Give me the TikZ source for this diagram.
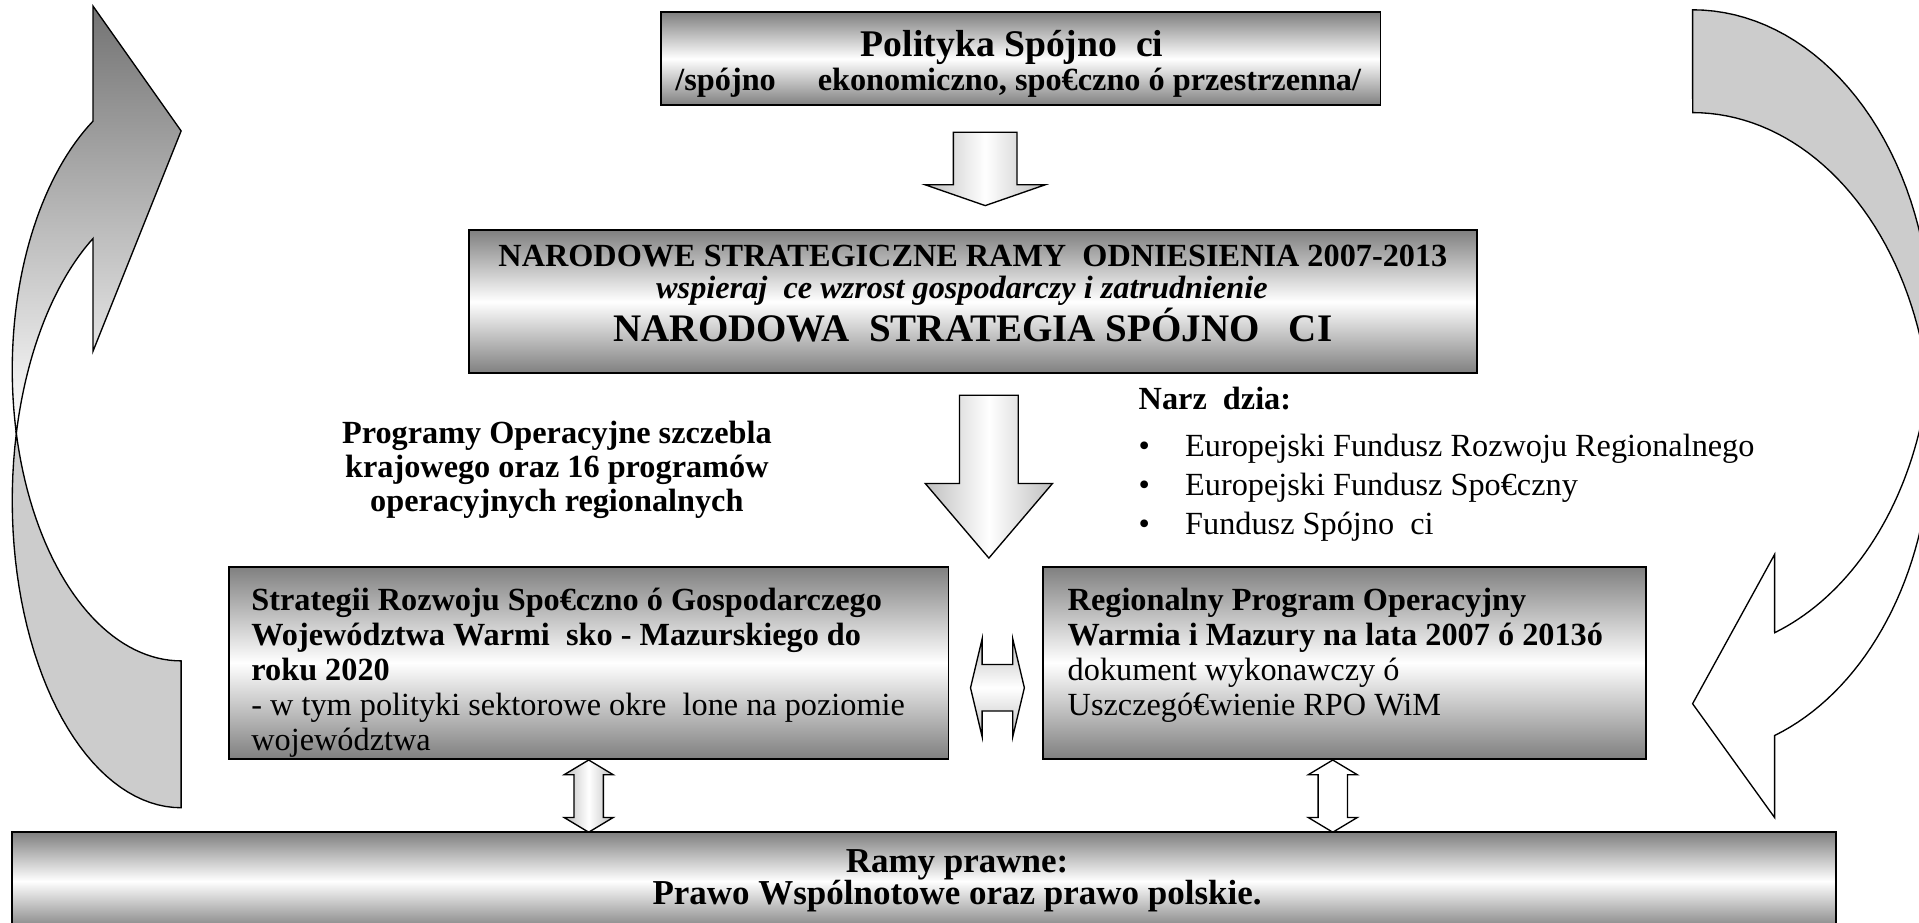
\documentclass[tikz,border=0pt]{standalone}
\usepackage{fontspec}
\setmainfont{Liberation Serif}
\usetikzlibrary{positioning,calc}
\newdimen\unitpx \unitpx=0.455pt
\tikzset{
    panel/.style={draw=black, line width=0.7pt, top color=black!50, bottom color=black!50, middle color=white, inner sep=0pt},
    blockarrow/.style={draw=black, line width=0.5pt, left color=black!25, right color=black!25, middle color=white},
    blockarrowh/.style={draw=black, line width=0.5pt, top color=black!25, bottom color=black!25, middle color=white},
    plainarrow/.style={draw=black, line width=0.5pt, fill=white},
    curveback/.style={draw=black, line width=0.5pt, fill=black!20},
    curvefront/.style={draw=black, line width=0.5pt, top color=black!55, bottom color=white},
    txt/.style={inner sep=0pt, font=\fontsize{12}{13}\selectfont},
    boldtxt/.style={inner sep=0pt, font=\fontsize{12}{13}\selectfont\bfseries}
}
% x, top, head base, tip, half shaft, half head
\newcommand{\DownBlock}[6]{%
  \draw[blockarrow] (#1-#5,#2) -- (#1+#5,#2) -- (#1+#5,#3) -- (#1+#6,#3) -- (#1,#4) -- (#1-#6,#3) -- (#1-#5,#3) -- cycle;}
% style, x, top, bottom, half shaft, half head, head length
\newcommand{\VDouble}[7]{%
  \draw[#1] (#2,#3) -- (#2+#6,#3+#7) -- (#2+#5,#3+#7) -- (#2+#5,#4-#7) -- (#2+#6,#4-#7) -- (#2,#4) -- (#2-#6,#4-#7) -- (#2-#5,#4-#7) -- (#2-#5,#3+#7) -- (#2-#6,#3+#7) -- cycle;}
% style, y, left, right, half shaft, half head, head length
\newcommand{\HDouble}[7]{%
  \draw[#1] (#3,#2) -- (#3+#7,#2-#6) -- (#3+#7,#2-#5) -- (#4-#7,#2-#5) -- (#4-#7,#2-#6) -- (#4,#2) -- (#4-#7,#2+#6) -- (#4-#7,#2+#5) -- (#3+#7,#2+#5) -- (#3+#7,#2+#6) -- cycle;}

\begin{document}
\begin{tikzpicture}[x=0.455pt, y=-0.455pt]
    \useasboundingbox (0,0) rectangle (1568,754);
    \clip (0,0) rectangle (1568,754);

    % left curved arrow: back part, then front part
    \draw[curveback] (13.3,354) -- plot[domain=0:1, samples=40] ({148+138*cos(167.36-77.36*\x)}, {302+238*sin(167.36-77.36*\x)})
        -- (148,660) -- plot[domain=0:1, samples=40] ({148+138*cos(90+102.64*\x)}, {409+251*sin(90+102.64*\x)}) -- cycle;
    \draw[curvefront] (76,99) -- (76,5) -- (148,107) -- (76,287) -- (76,195)
        -- plot[domain=0:1, samples=40] ({148+138*cos(238.55-45.91*\x)}, {409+251*sin(238.55-45.91*\x)})
        -- plot[domain=0:1, samples=40] ({148+138*cos(167.36+71.19*\x)}, {302+238*sin(167.36+71.19*\x)}) -- cycle;

    % right curved arrow
    \draw[curveback] (1383,8) -- plot[domain=0:1, samples=40] ({1383+195*cos(270+99.2*\x)}, {270.5+262.5*sin(270+99.2*\x)})
        -- plot[domain=0:1, samples=40] ({1383+195*cos(350.8-80.8*\x)}, {354.5+262.5*sin(350.8-80.8*\x)}) -- cycle;
    \draw[plainarrow] (1575.5,312.5) -- plot[domain=0:1, samples=40] ({1383+195*cos(9.2+60.7*\x)}, {270.5+262.5*sin(9.2+60.7*\x)})
        -- (1450,453) -- (1383,575) -- (1450,668) -- (1450,602)
        -- plot[domain=0:1, samples=40] ({1383+195*cos(69.9-79.1*\x)}, {354.5+262.5*sin(69.9-79.1*\x)}) -- cycle;

    \node[panel, minimum width=588\unitpx, minimum height=76\unitpx] (pol) at (834,48) {};
    \node[inner sep=0pt, font=\fontsize{14}{16}\selectfont\bfseries, anchor=base] (poltitle) at (827,46) {Polityka Spójno\enspace ci};
    \node[boldtxt, anchor=base] (polsub) at (832,74) {/spójno\hspace{1.3em}ekonomiczno, spo€czno ó przestrzenna/};

    \DownBlock{805}{108}{151}{168}{26}{49}

    \node[panel, minimum width=824\unitpx, minimum height=117\unitpx] (nsro) at (795,246.5) {};
    \node[boldtxt, anchor=base] (nsroA) at (795,218) {NARODOWE STRATEGICZNE RAMY~ ODNIESIENIA 2007-2013};
    \node[inner sep=0pt, font=\fontsize{12}{14}\selectfont\bfseries\itshape, anchor=base] (nsroB) at (786,244) {wspieraj\enspace ce wzrost gospodarczy i zatrudnienie};
    \node[inner sep=0pt, font=\fontsize{14.5}{17}\selectfont\bfseries, anchor=base] (nsroC) at (795,279) {NARODOWA~ STRATEGIA SPÓJNO\enspace~CI};

    \DownBlock{808}{323}{395}{456}{24}{52}

    \node[boldtxt, font=\fontsize{12}{12.74}\selectfont\bfseries, align=center] (progs) at (455,384) {Programy Operacyjne szczebla\\krajowego oraz 16 programów\\operacyjnych regionalnych};

    \node[txt, font=\fontsize{12}{14.5}\selectfont, anchor=north west, align=left] (narz) at (930,316)
        {\textbf{Narz\enspace dzia:}\\[2.8pt]\makebox[38\unitpx][l]{•}Europejski Fundusz Rozwoju Regionalnego\\\makebox[38\unitpx][l]{•}Europejski Fundusz Spo€czny\\\makebox[38\unitpx][l]{•}Fundusz Spójno\enspace ci};

    \node[panel, minimum width=588\unitpx, minimum height=157\unitpx] (strat) at (481,541.5) {};
    \node[txt, anchor=north west, align=left] (strattxt) at (205,480)
        {\textbf{Strategii Rozwoju Spo€czno ó Gospodarczego}\\\textbf{Województwa Warmi\enspace sko - Mazurskiego do}\\\textbf{roku 2020}\\- w tym polityki sektorowe okre\enspace lone na poziomie\\województwa};

    \node[panel, minimum width=493\unitpx, minimum height=157\unitpx] (rpo) at (1098.5,541.5) {};
    \node[txt, anchor=north west, align=left] (rpotxt) at (872,480)
        {\textbf{Regionalny Program Operacyjny}\\\textbf{Warmia i Mazury na lata 2007 ó 2013ó}\\dokument wykonawczy ó\\Uszczegó€wienie RPO WiM};

    \HDouble{blockarrowh}{562}{793}{837}{19}{40}{9.5}

    \VDouble{blockarrow}{481}{621}{680}{12}{20}{12}
    \VDouble{plainarrow}{1089}{621}{680}{12}{20}{12}

    \node[panel, line width=0.9pt, minimum width=1490\unitpx, minimum height=80\unitpx] (ramy) at (755,720) {};
    \node[inner sep=0pt, font=\fontsize{13}{15}\selectfont\bfseries, anchor=base] (ramyA) at (782,713) {Ramy prawne:};
    \node[inner sep=0pt, font=\fontsize{13}{15}\selectfont\bfseries, anchor=base] (ramyB) at (782,739) {Prawo Wspólnotowe oraz prawo polskie.};
\end{tikzpicture}
\end{document}
